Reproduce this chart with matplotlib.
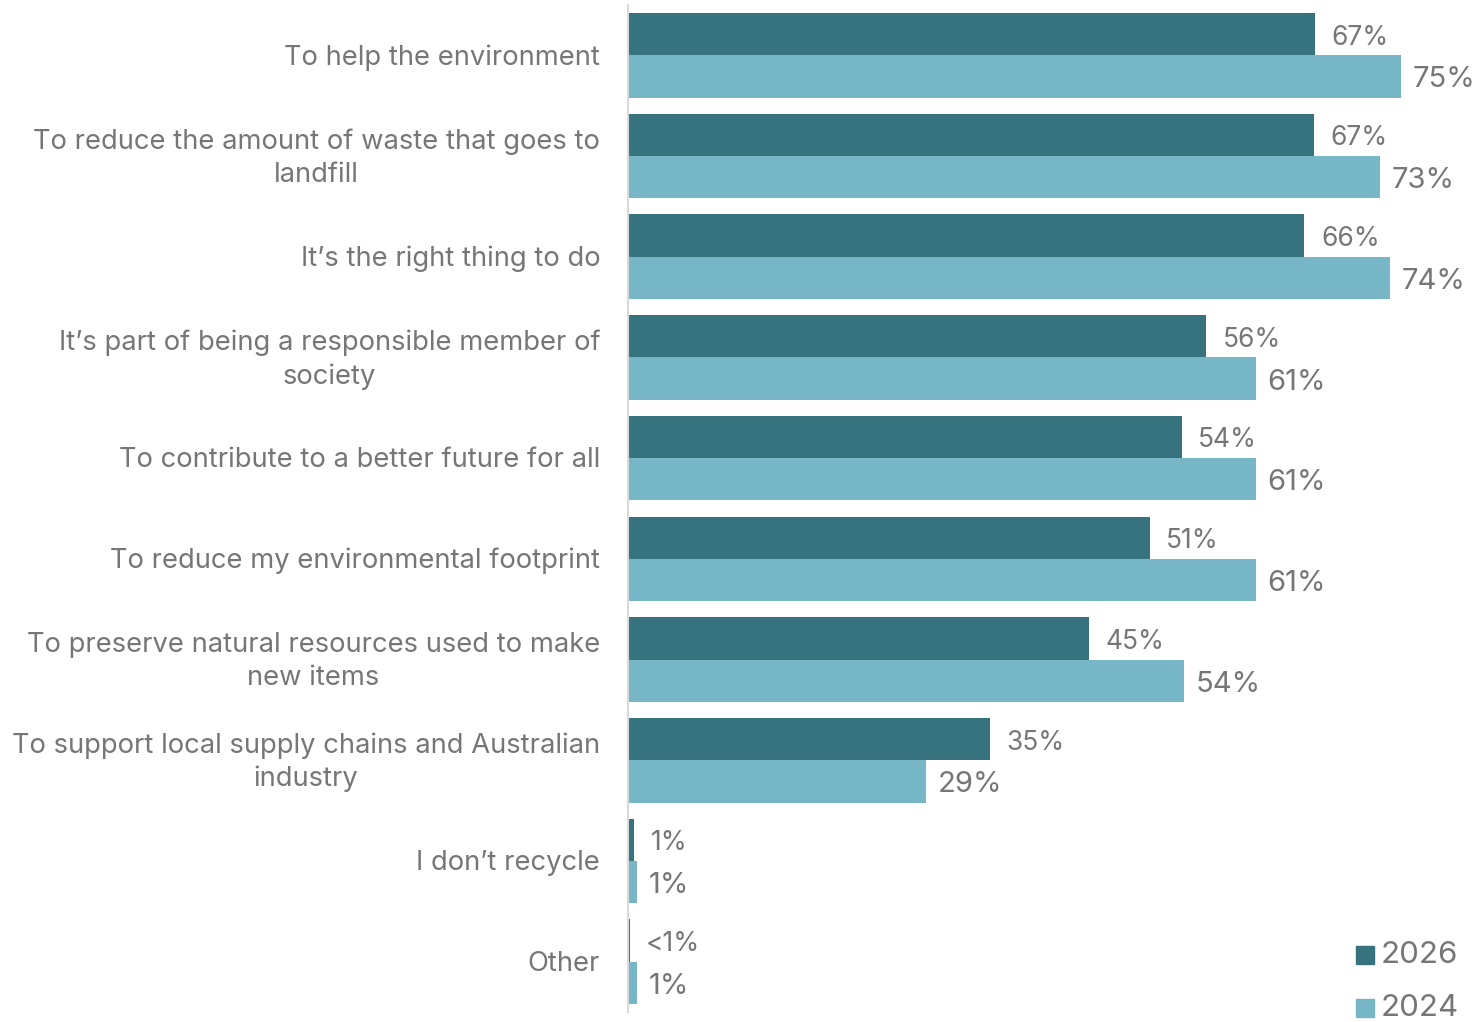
import numpy as np
import matplotlib.pyplot as plt
import matplotlib
from matplotlib.patches import Rectangle

matplotlib.use("Agg")

# data
categories = [
    "To help the environment",
    "To reduce the amount of waste that goes to\nlandfill",
    "It\u2019s the right thing to do",
    "It\u2019s part of being a responsible member of\nsociety",
    "To contribute to a better future for all",
    "To reduce my environmental footprint",
    "To preserve natural resources used to make\nnew items",
    "To support local supply chains and Australian\nindustry",
    "I don\u2019t recycle",
    "Other",
]
vals_2026 = [66.6, 66.5, 65.6, 56.1, 53.7, 50.6, 44.7, 35.1, 0.6, 0.15]
vals_2024 = [75.0, 72.9, 73.9, 60.9, 60.9, 60.9, 53.9, 28.9, 0.9, 0.9]
labels_2026 = ["67%", "67%", "66%", "56%", "54%", "51%", "45%", "35%", "1%", "<1%"]
labels_2024 = ["75%", "73%", "74%", "61%", "61%", "61%", "54%", "29%", "1%", "1%"]
series = ["2026", "2024"]

dark = "#36737F"
light = "#76B6C7"
grey = "#767676"

plt.rcParams["font.family"] = ["Inter", "DejaVu Sans"]

fig = plt.figure(figsize=(14.78, 10.22), dpi=100)
ax = fig.add_axes([628 / 1478, 1 - 1012 / 1022, (1473 - 628) / 1478, (1012 - 5) / 1022])

y = np.arange(len(categories))
h = 0.42
ax.barh(y - h / 2, vals_2026, height=h, color=dark)
ax.barh(y + h / 2, vals_2024, height=h, color=light)

for i in range(len(categories)):
    ax.annotate(labels_2026[i], (vals_2026[i], y[i] - h / 2), xytext=(12, -2.5),
                textcoords="offset points", ha="left", va="center",
                fontsize=19, color=grey)
    ax.annotate(labels_2024[i], (vals_2024[i], y[i] + h / 2), xytext=(8.5, -2.5),
                textcoords="offset points", ha="left", va="center",
                fontsize=21, color=grey)
    ax.annotate(categories[i], (0, y[i]), xytext=(-20, -1.5),
                textcoords="offset points", ha="right", va="center",
                multialignment="center", fontsize=19.7, color=grey, linespacing=1.35)

ax.set_xlim(0, (1473 - 628) / 10.31)
ax.set_ylim(9.5, -0.5)
ax.set_xticks([])
ax.set_yticks([])
for s in ["top", "right", "bottom"]:
    ax.spines[s].set_visible(False)
ax.spines["left"].set_color("#D9D9D9")
ax.spines["left"].set_linewidth(1.5)

# legend
for k, (name, col) in enumerate(zip(series, [dark, light])):
    yy = 1 - (955 + k * 53) / 1022
    fig.patches.append(Rectangle((1356 / 1478, yy - 9 / 1022), 18 / 1478, 18 / 1022,
                                 transform=fig.transFigure, color=col))
    fig.text(1381 / 1478, yy, name, ha="left", va="center", fontsize=22.5, color=grey)

plt.savefig("out.png", dpi=100)
